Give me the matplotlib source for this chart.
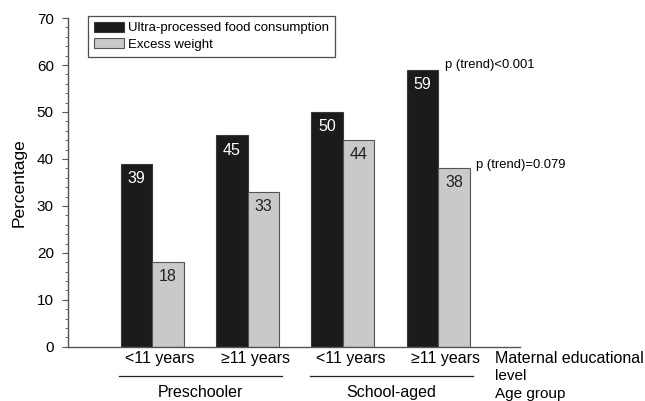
import matplotlib
matplotlib.use("Agg")
import matplotlib.pyplot as plt
import matplotlib.transforms as mtransforms
from matplotlib.ticker import MultipleLocator

plt.rcParams['font.family'] = ['Liberation Sans', 'DejaVu Sans']

# data
edu_labels = ['<11 years', '\u226511 years', '<11 years', '\u226511 years']
age_groups = ['Preschooler', 'School-aged']
upf = [39, 45, 50, 59]
excess = [18, 33, 44, 38]
p_upf = 'p (trend)<0.001'
p_excess = 'p (trend)=0.079'

fig = plt.figure(figsize=(6.45, 4.01), dpi=100)
ax = fig.add_axes([0.105, 0.135, 0.701, 0.82])

x = list(range(len(upf)))
w = 0.33
xb = [i - w / 2 for i in x]
xg = [i + w / 2 for i in x]
ax.bar(xb, upf, width=w, color='#1c1a1b', edgecolor='#3a3a3a', linewidth=0.8,
       label='Ultra-processed food consumption')
ax.bar(xg, excess, width=w, color='#c9c9c9', edgecolor='#555555', linewidth=0.8,
       label='Excess weight')

for xi, v in zip(xb, upf):
    ax.text(xi, v - 3.1, str(v), color='white', ha='center', va='center', fontsize=11.5)
for xi, v in zip(xg, excess):
    ax.text(xi, v - 3.1, str(v), color='#222222', ha='center', va='center', fontsize=11.5)

ax.text(xb[-1] + w / 2 + 0.07, upf[-1] + 0.9, p_upf, fontsize=9.4, va='center', ha='left')
ax.text(xg[-1] + w / 2 + 0.07, excess[-1] + 0.7, p_excess, fontsize=9.4, va='center', ha='left')

ax.set_xlim(-0.887, 3.856)
ax.set_ylim(0, 70)
ax.yaxis.set_major_locator(MultipleLocator(10))
ax.yaxis.set_minor_locator(MultipleLocator(2))
ax.tick_params(axis='y', which='major', length=4, color='#555555', labelsize=11, pad=6)
ax.tick_params(axis='y', which='minor', length=2.5, color='#555555')
ax.set_xticks([])
for s in ['top', 'right']:
    ax.spines[s].set_visible(False)
for s in ['left', 'bottom']:
    ax.spines[s].set_color('#555555')
    ax.spines[s].set_linewidth(1.0)
ax.set_ylabel('Percentage', fontsize=12.5, labelpad=7)

trans = mtransforms.blended_transform_factory(ax.transData, ax.transAxes)
for i, lab in enumerate(edu_labels):
    ax.text(x[i] + 0.08, -0.036, lab, transform=trans, ha='center', va='center',
            fontsize=11.5, clip_on=False)
for g, name in enumerate(age_groups):
    x0 = 2 * g - 0.35
    x1 = 2 * g + 1.36
    ax.plot([x0, x1], [-0.088, -0.088], transform=trans, color='#222222',
            linewidth=0.9, clip_on=False)
    ax.text((x0 + x1) / 2, -0.140, name, transform=trans, ha='center', va='center',
            fontsize=11.5, clip_on=False)
ax.text(3.59, -0.036, 'Maternal educational', transform=trans, ha='left', va='center',
        fontsize=11.5, clip_on=False)
ax.text(3.59, -0.089, 'level', transform=trans, ha='left', va='center',
        fontsize=11, clip_on=False)
ax.text(3.59, -0.143, 'Age group', transform=trans, ha='left', va='center',
        fontsize=11, clip_on=False)

leg = ax.legend(loc='upper left', bbox_to_anchor=(0.044, 1.007), fontsize=9.5,
                frameon=True, fancybox=False, edgecolor='#222222', borderpad=0.45,
                handlelength=2.3, handleheight=0.8, handletextpad=0.3, labelspacing=0.3,
                borderaxespad=0)
leg.get_frame().set_linewidth(0.9)

fig.savefig('out.png', dpi=100)
